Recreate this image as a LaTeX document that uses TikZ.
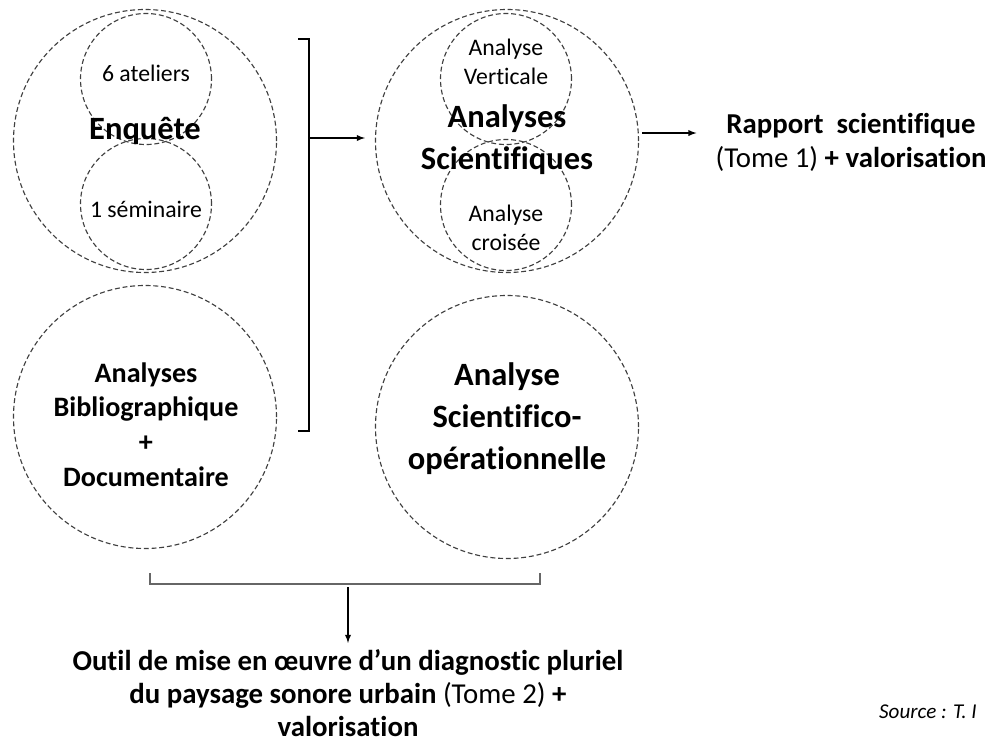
\documentclass[tikz,border=0pt]{standalone}
\usepackage{fontspec}
\setmainfont{Carlito}[Ligatures=CommonOff]

\begin{document}
\begin{tikzpicture}
  \tikzset{
    ring/.style={draw=black!75, dash pattern=on 2.8pt off 1.6pt, line width=0.65pt, circle, inner sep=0pt},
    bigring/.style={ring, minimum size=5.26cm},
    smallring/.style={ring, minimum size=2.62cm},
    title/.style={font=\bfseries\fontsize{18.5}{24}\selectfont, align=center, inner sep=1pt},
    midtitle/.style={font=\bfseries\fontsize{16}{19.8}\selectfont, align=center, inner sep=1pt},
    sub/.style={font=\fontsize{13.5}{16.5}\selectfont, align=center, inner sep=1pt},
    result/.style={font=\bfseries\fontsize{16.4}{19}\selectfont, align=center, inner sep=1pt},
    link/.style={-latex, line width=0.6pt}
  }
  \path[use as bounding box] (0,0) rectangle (19.82,-14.88);

  % enquete + ateliers
  \node[bigring] (enqring) at (2.90,-2.82) {};
  \node[smallring] (atel) at (2.92,-1.58) {};
  \node[smallring] (semi) at (2.92,-4.08) {};
  \node[sub] (atellbl) at (2.92,-1.46) {6 ateliers};
  \node[sub] (semilbl) at (2.92,-4.18) {1 séminaire};
  \node[title] (enq) at (2.90,-2.62) {Enquête};

  % biblio
  \node[bigring] (biblring) at (2.90,-8.34) {};
  \node[midtitle] (bibl) at (2.92,-8.49) {Analyses\\Bibliographique\\+\\Documentaire};

  % analyses scientifiques
  \node[bigring] (ascring) at (10.14,-2.82) {};
  \node[smallring] (vert) at (10.12,-1.58) {};
  \node[smallring] (crois) at (10.12,-4.10) {};
  \node[sub] (vertlbl) at (10.12,-1.23) {Analyse\\Verticale};
  \node[sub] (croislbl) at (10.12,-4.55) {Analyse\\croisée};
  \node[title] (asc) at (10.14,-2.79) {Analyses\\Scientifiques};

  % scientifico-operationnelle
  \node[bigring] (asoring) at (10.14,-8.54) {};
  \node[title] (aso) at (10.14,-8.37) {Analyse\\Scientifico-\\opérationnelle};

  \node[result] (rap) at (17.02,-2.85) {Rapport~~scientifique\\{\mdseries (Tome 1)} + valorisation};

  % bracket left -> analyses
  \coordinate (btop) at (6.18,-0.78);
  \coordinate (bbot) at (6.18,-8.62);
  \coordinate (bmid) at (6.18,-2.76);
  \draw[line width=0.8pt] ([xshift=-0.22cm]btop) -- (btop) -- (bbot) -- ([xshift=-0.22cm]bbot);
  \draw[link, shorten >=0.2cm] (bmid) -- (bmid -| ascring.west);
  \draw[link, shorten <=0.06cm, shorten >=0.34cm] ([yshift=0.16cm]ascring.east) -- ([yshift=0.16cm]ascring.east -| rap.west);

  % bottom bracket
  \coordinate (lb) at (3.00,-11.68);
  \coordinate (rb) at (10.80,-11.68);
  \coordinate (bb) at (6.96,-11.68);
  \draw[black!60, line width=0.6pt] ([yshift=0.22cm]lb) -- (lb) -- (rb) -- ([yshift=0.22cm]rb);
  \node[result] (outil) at (6.96,-13.86) {Outil de mise en œuvre d’un diagnostic pluriel\\du paysage sonore urbain {\mdseries (Tome 2)} +\\valorisation};
  \draw[link, shorten <=0.06cm, shorten >=0.08cm] (bb) -- (bb |- outil.north);

  \node[anchor=west, font=\itshape\fontsize{12}{14}\selectfont] (src) at (17.46,-14.24) {Source : T. I};
\end{tikzpicture}
\end{document}
